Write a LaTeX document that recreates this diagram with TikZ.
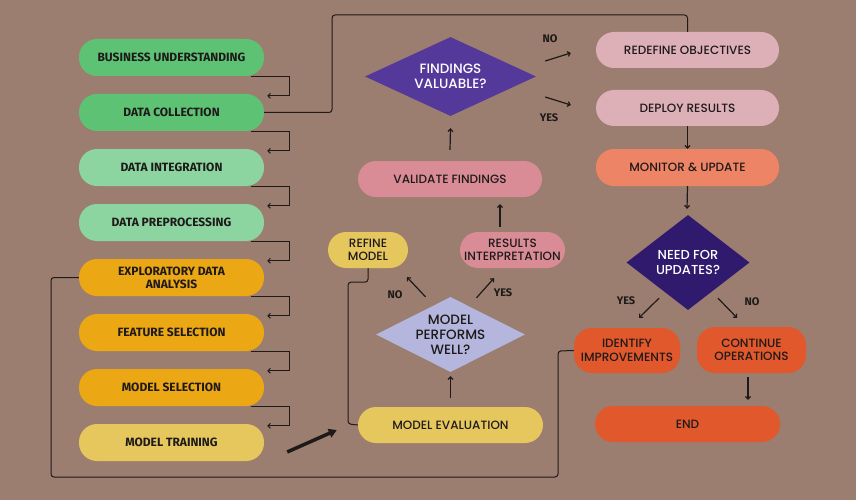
\documentclass[tikz,border=0pt]{standalone}
\usepackage{fontspec}
\setmainfont{Poppins}
\newfontfamily\popm{Poppins Medium}
\newfontfamily\barl{Fira Sans}
\usetikzlibrary{shapes.geometric,arrows.meta,calc}
\definecolor{bg}{HTML}{9B7E6F}
\definecolor{txt}{HTML}{1E1A1A}
\definecolor{gA}{HTML}{5EC275}
\definecolor{gB}{HTML}{8DD5A0}
\definecolor{orA}{HTML}{EBA714}
\definecolor{yeA}{HTML}{E6C75E}
\definecolor{piA}{HTML}{D98C96}
\definecolor{piB}{HTML}{DDB0B8}
\definecolor{saA}{HTML}{EE8466}
\definecolor{reA}{HTML}{E0582B}
\definecolor{puA}{HTML}{55399A}
\definecolor{laA}{HTML}{B4B6DE}
\definecolor{puB}{HTML}{2F1A6E}
\tikzset{
  lbox/.style={rounded corners=18pt, minimum width=185pt, minimum height=37pt, inner sep=0pt,
    align=center, text=txt, font=\barl\bfseries\fontsize{12}{13}\selectfont},
  rbox/.style={rounded corners=18pt, minimum width=185pt, minimum height=36pt, inner sep=0pt,
    align=center, text=txt, font=\popm\fontsize{12}{13.3}\selectfont},
  dia/.style={diamond, inner sep=0pt},
  diatext/.style={align=center, text=white, font=\popm\fontsize{13.5}{15}\selectfont},
  conn/.style={draw=txt, line width=1pt},
  arr/.style={draw=txt, line width=1.2pt, -{Straight Barb[length=2.5pt,width=5pt]}},
  lab/.style={text=txt, font=\barl\bfseries\fontsize{11}{12}\selectfont},
}
\begin{document}
\begin{tikzpicture}[x=1pt,y=-1pt]
\fill[bg] (0,0) rectangle (856,500);
\useasboundingbox (0,0) rectangle (856,500);

% left column
\node[lbox, fill=gA] (bu) at (171.5,57.5) {BUSINESS UNDERSTANDING};
\node[lbox, fill=gA] (dc) at (171.5,112.5) {DATA COLLECTION};
\node[lbox, fill=gB] (di) at (171.5,167.5) {DATA INTEGRATION};
\node[lbox, fill=gB] (dp) at (171.5,222.5) {DATA PREPROCESSING};
\node[lbox, fill=orA] (eda) at (171.5,277.5) {EXPLORATORY DATA\\ANALYSIS};
\node[lbox, fill=orA] (fs) at (171.5,332.5) {FEATURE SELECTION};
\node[lbox, fill=orA] (ms) at (171.5,387.5) {MODEL SELECTION};
\node[lbox, fill=yeA] (mt) at (171.5,442.5) {MODEL TRAINING};

\foreach \a/\b in {bu/dc, dc/di, di/dp, dp/eda, eda/fs, fs/ms, ms/mt}{
  \draw[arr, line width=1pt] ([shift={(-13,0)}]\a.south east) -- ++(38,0) |- ([shift={(3,2)}]\b.north east);
}

% middle column
\node[rbox, fill=yeA] (me) at (450.5,425) {MODEL EVALUATION};
\node[dia, fill=laA, minimum width=149pt, minimum height=75pt] (mpw) at (450.5,334.5) {};
\node[diatext, text=txt] at (mpw) {MODEL\\PERFORMS\\WELL?};
\node[rbox, fill=yeA, minimum width=80pt] (rm) at (368,250) {REFINE\\MODEL};
\node[rbox, fill=piA, minimum width=105pt] (ri) at (512.5,250) {RESULTS\\INTERPRETATION};
\node[rbox, fill=piA, minimum width=184pt] (vf) at (450,179) {VALIDATE FINDINGS};
\node[dia, fill=puA, minimum width=171pt, minimum height=79pt] (fv) at (450.5,76.5) {};
\node[diatext] at (fv) {FINDINGS\\VALUABLE?};

% right column
\node[rbox, fill=piB, minimum width=183pt] (ro) at (687.5,50) {REDEFINE OBJECTIVES};
\node[rbox, fill=piB, minimum width=183pt] (dr) at (687.5,108) {DEPLOY RESULTS};
\node[rbox, fill=saA, minimum width=183pt, minimum height=37pt] (mu) at (687.5,167.5) {MONITOR \& UPDATE};
\node[dia, fill=puB, minimum width=123pt, minimum height=95pt] (nfu) at (688,262.5) {};
\node[diatext, font=\popm\fontsize{13}{15}\selectfont] at (nfu) {NEED FOR\\UPDATES?};
\node[rbox, fill=reA, minimum width=106pt, minimum height=45pt] (ii) at (627,350.5) {IDENTIFY\\IMPROVEMENTS};
\node[rbox, fill=reA, minimum width=109pt, minimum height=46pt] (co) at (751.5,350) {CONTINUE\\OPERATIONS};
\node[rbox, fill=reA, minimum width=185pt] (en) at (687.5,424) {END};

% long connectors
\draw[conn, rounded corners=3pt] (dc.east) -| (332,15) -| (ro.north);
\draw[conn, rounded corners=3pt] (eda.west) -| (51,477) -| (558,351) -- (ii.west);
\draw[conn, rounded corners=3pt] (rm.south) -- ++(0,14) -| (348,424) -- (me.west);

% thick arrow
\draw[txt, line width=3.5pt, -{Triangle[length=8pt,width=9pt]}] ([shift={(23,9.5)}]mt.east) -- ([shift={(-21,5)}]me.west);

% arrows middle
\draw[arr] (me.north) ++(0,-9) -- ([shift={(0,4)}]mpw.south);
\draw[arr] ([shift={(-25,0)}]mpw.north) -- ([shift={(39,9)}]rm.south);
\draw[arr] ([shift={(26,1)}]mpw.north) -- ([shift={(-18.5,10)}]ri.south);
\draw[arr] ([shift={(-12.5,-5)}]ri.north) -- ([shift={(50,7)}]vf.south);
\draw[arr] ([shift={(0,-11)}]vf.north) -- ([shift={(0,12)}]fv.south);
\draw[arr] ([shift={(9,-15.5)}]fv.east) -- ([shift={(-25,3)}]ro.west);
\draw[arr] ([shift={(9,20.5)}]fv.east) -- ([shift={(-25,-3)}]dr.west);

% arrows right
\draw[arr] (dr.south) -- (mu.north);
\draw[arr] (mu.south) -- ([shift={(-1,-6)}]nfu.north);
\draw[arr] ([shift={(-29,-12)}]nfu.south) -- ([shift={(12,-10)}]ii.north);
\draw[arr] ([shift={(30,-12)}]nfu.south) -- ([shift={(-14.5,-9)}]co.north);
\draw[arr] ([shift={(-3.5,4)}]co.south) -- ([shift={(60.5,-6)}]en.north);

% labels
\node[lab] (l1) at (395,295) {NO};
\node[lab] (l2) at (503,293) {YES};
\node[lab] (l3) at (550,39) {NO};
\node[lab] (l4) at (549,118) {YES};
\node[lab] (l5) at (626,301) {YES};
\node[lab] (l6) at (752,302) {NO};
\end{tikzpicture}
\end{document}
